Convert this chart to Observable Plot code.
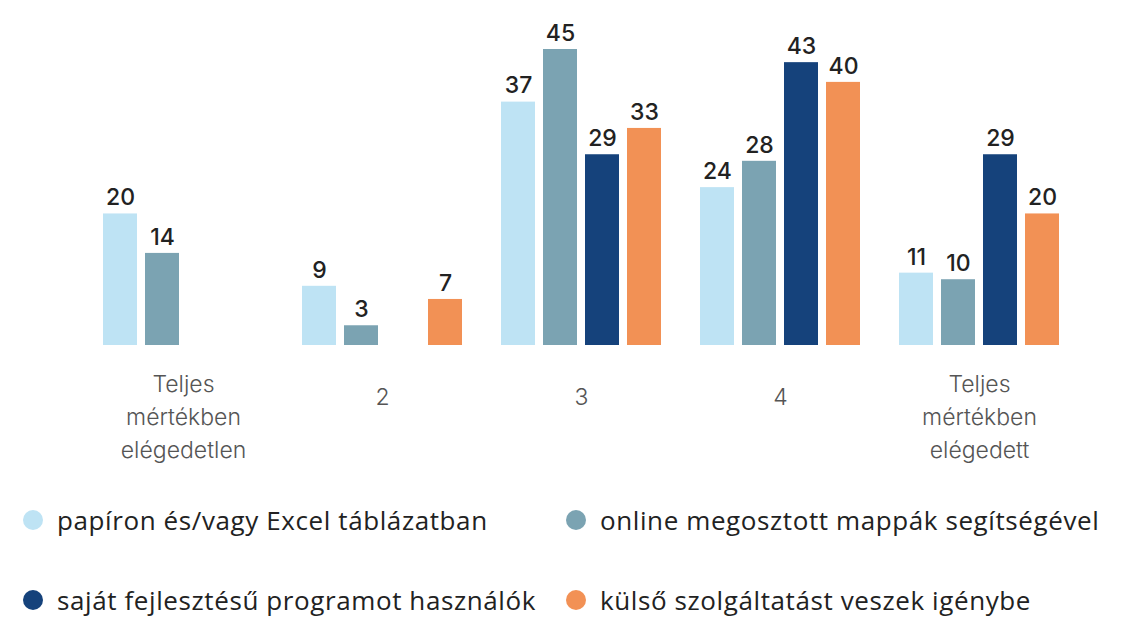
<!DOCTYPE html>
<html>
<head>
<meta charset="utf-8">
<script src="https://cdn.jsdelivr.net/npm/d3@7"></script>
<script src="https://cdn.jsdelivr.net/npm/@observablehq/plot@0.6"></script>
<style>
  html, body { margin: 0; padding: 0; background: #fff; }
  #wrap { width: 1129px; height: 620px; position: relative; overflow: hidden; }
  #legend { position: relative; width: 1129px; height: 140px; font-family: "Open Sans", sans-serif; font-size: 26px; letter-spacing: 0.6px; color: #222; }
  .item { position: absolute; display: flex; align-items: center; height: 30px; white-space: nowrap; }
  .dot { width: 20px; height: 20px; border-radius: 50%; margin-right: 14px; flex: none; }
</style>
</head>
<body>
<div id="wrap">
  <div id="chart"></div>
  <div id="legend"></div>
</div>
<script>
const categories = ["Teljes mértékben elégedetlen", "2", "3", "4", "Teljes mértékben elégedett"];
const categoryLabels = ["Teljes\nmértékben\nelégedetlen", "2", "3", "4", "Teljes\nmértékben\nelégedett"];
const series = [
  "papíron és/vagy Excel táblázatban",
  "online megosztott mappák segítségével",
  "saját fejlesztésű programot használók",
  "külső szolgáltatást veszek igénybe"
];
const colors = ["#bee3f4", "#7ba3b2", "#15427b", "#f29155"];
// values per series, aligned with categories (null = no bar)
const paper  = [20, 9, 37, 24, 11];
const online = [14, 3, 45, 28, 10];
const own    = [null, null, 29, 43, 29];
const ext    = [null, 7, 33, 40, 20];

const seriesValues = [paper, online, own, ext];
const data = [];
series.forEach((s, si) => {
  categories.forEach((c, ci) => {
    const v = seriesValues[si][ci];
    if (v != null) data.push({category: c, series: s, value: v});
  });
});
const labelData = categories.map((c, i) => ({category: c, label: categoryLabels[i]}));

const chart = Plot.plot({
  width: 1129,
  height: 480,
  marginLeft: 100,
  marginRight: 66,
  marginTop: 49,
  marginBottom: 135,
  style: {background: "transparent", overflow: "visible"},
  fx: {domain: categories, paddingInner: 0.185, paddingOuter: 0, axis: null, label: null},
  x: {domain: series, paddingInner: 0.186, paddingOuter: 0, axis: null, label: null},
  y: {domain: [0, 45], axis: null},
  color: {domain: series, range: colors},
  marks: [
    Plot.barY(data, {fx: "category", x: "series", y: "value", fill: "series"}),
    Plot.text(data, {
      fx: "category", x: "series", y: "value", text: d => String(d.value),
      dy: -16, fontSize: 23, fontWeight: 500, fill: "#222",
      fontFamily: "Inter, sans-serif"
    }),
    Plot.text(labelData.filter(d => d.label.includes("\n")), {
      fx: "category", text: "label", frameAnchor: "bottom",
      dy: 69, lineAnchor: "middle", lineHeight: 1.43,
      fontSize: 23, fontWeight: 300, fill: "#555",
      fontFamily: "Inter, sans-serif"
    }),
    Plot.text(labelData.filter(d => !d.label.includes("\n")), {
      fx: "category", text: "label", frameAnchor: "bottom",
      dy: 52, lineAnchor: "middle",
      fontSize: 23, fontWeight: 300, fill: "#555",
      fontFamily: "Inter, sans-serif"
    })
  ]
});
document.getElementById("chart").appendChild(chart);

const legend = document.getElementById("legend");
const positions = [
  {left: 23, top: 25}, {left: 566, top: 25},
  {left: 23, top: 105}, {left: 566, top: 105}
];
series.forEach((s, i) => {
  const item = document.createElement("div");
  item.className = "item";
  item.style.left = positions[i].left + "px";
  item.style.top = positions[i].top + "px";
  const dot = document.createElement("span");
  dot.className = "dot";
  dot.style.background = colors[i];
  const txt = document.createElement("span");
  txt.textContent = s;
  item.appendChild(dot);
  item.appendChild(txt);
  legend.appendChild(item);
});
</script>
</body>
</html>
